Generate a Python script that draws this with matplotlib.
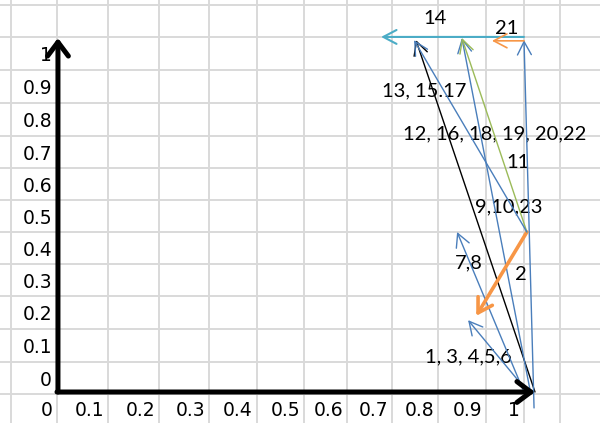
import matplotlib.pyplot as plt

# sheet cell labels
y_labels = ['1', '0.9', '0.8', '0.7', '0.6', '0.5', '0.4', '0.3', '0.2', '0.1', '0']
x_labels = ['0', '0.1', '0.2', '0.3', '0.4', '0.5', '0.6', '0.7', '0.8', '0.9', '1']

# step vectors in unit-square coordinates (start -> end)
x_start = [0.983, 0.975, 1.000, 0.990, 0.998, 0.983, 0.983, 0.983, 0.977, 0.977]
y_start = [0.003, 0.006, 0.000, 0.003, -0.045, 0.452, 0.452, 0.452, 1.003, 0.992]
x_end = [0.860, 0.837, 0.751, 0.847, 0.977, 0.877, 0.847, 0.747, 0.678, 0.910]
y_end = [0.203, 0.452, 0.994, 1.000, 0.994, 0.215, 1.000, 0.994, 1.003, 0.992]

# step labels
step_labels = ['1, 3, 4,5,6', '7,8', '2', '9,10,23', '11',
               '12, 16, 18, 19, 20,22', '13, 15.17', '14', '21']

# styles
blue, orange, green, cyan = '#4A7EBB', '#F79646', '#9BBB59', '#4BACC6'
arrow_colors = [blue, blue, 'black', blue, blue, orange, green, blue, cyan, orange]
arrow_widths = [1.0, 1.0, 1.0, 1.0, 1.0, 2.6, 1.0, 1.0, 1.5, 1.2]

# sheet layout (pixels)
col_edges = [11, 57, 108, 159, 209, 257, 304, 347, 392, 438, 486, 524, 560]
row_edges = [5, 37, 70, 103, 136, 168, 200, 232, 264, 296, 329, 362, 394]
label_pos = [(425, 357), (455, 263), (515, 275), (475, 207), (506, 163),
             (403, 134), (382, 91), (423, 19), (495, 28)]

plt.rcParams['font.family'] = ['Lato', 'DejaVu Sans']
fig = plt.figure(figsize=(6.0, 4.23), dpi=100)

# spreadsheet background
bg = fig.add_axes([0, 0, 1, 1])
bg.set_xlim(0, 600)
bg.set_ylim(423, 0)
bg.axis('off')
for x in col_edges:
    bg.axvline(x, color='#D9D9D9', lw=1.4, zorder=0)
for y in row_edges:
    bg.axhline(y, color='#D9D9D9', lw=1.4, zorder=0)

for i, lab in enumerate(y_labels):
    bg.text(52, (row_edges[i + 1] + row_edges[i + 2]) / 2 + 2, lab,
            ha='right', va='center', fontsize=13.5, family='DejaVu Sans')
for i, lab in enumerate(x_labels):
    bg.text(col_edges[i + 1] - 4, 410, lab, ha='right', va='center',
            fontsize=13.5, family='DejaVu Sans')

for lab, (px, py) in zip(step_labels, label_pos):
    bg.text(px, py, lab, ha='left', va='center', fontsize=14.5, zorder=3)

# vector axes: 0 -> pixel 57/392, 1 -> pixel 535/38
ax = fig.add_axes([0, 0, 1, 1])
ax.patch.set_alpha(0)
ax.set_xlim(-57 / 478, 543 / 478)
ax.set_ylim(-31 / 354, 392 / 354)
ax.axis('off')

# thick axis arrows
for (xa, ya), (xb, yb) in [((0, 0), (1, 0)), ((0.002, 0), (0.002, 1))]:
    ax.annotate('', xy=(xb, yb), xytext=(xa, ya),
                arrowprops=dict(arrowstyle='->,head_length=1.0,head_width=0.75',
                                lw=3.6, color='black', shrinkA=0, shrinkB=0,
                                mutation_scale=10), zorder=5)

for xs, ys, xe, ye, c, w in zip(x_start, y_start, x_end, y_end, arrow_colors, arrow_widths):
    hl, hw = (0.95, 0.5) if w < 2 else (1.0, 0.6)
    ax.annotate('', xy=(xe, ye), xytext=(xs, ys),
                arrowprops=dict(arrowstyle=f'->,head_length={hl},head_width={hw}',
                                lw=w, color=c, shrinkA=0, shrinkB=0,
                                mutation_scale=10), zorder=4)

fig.savefig('out.png', dpi=100)
